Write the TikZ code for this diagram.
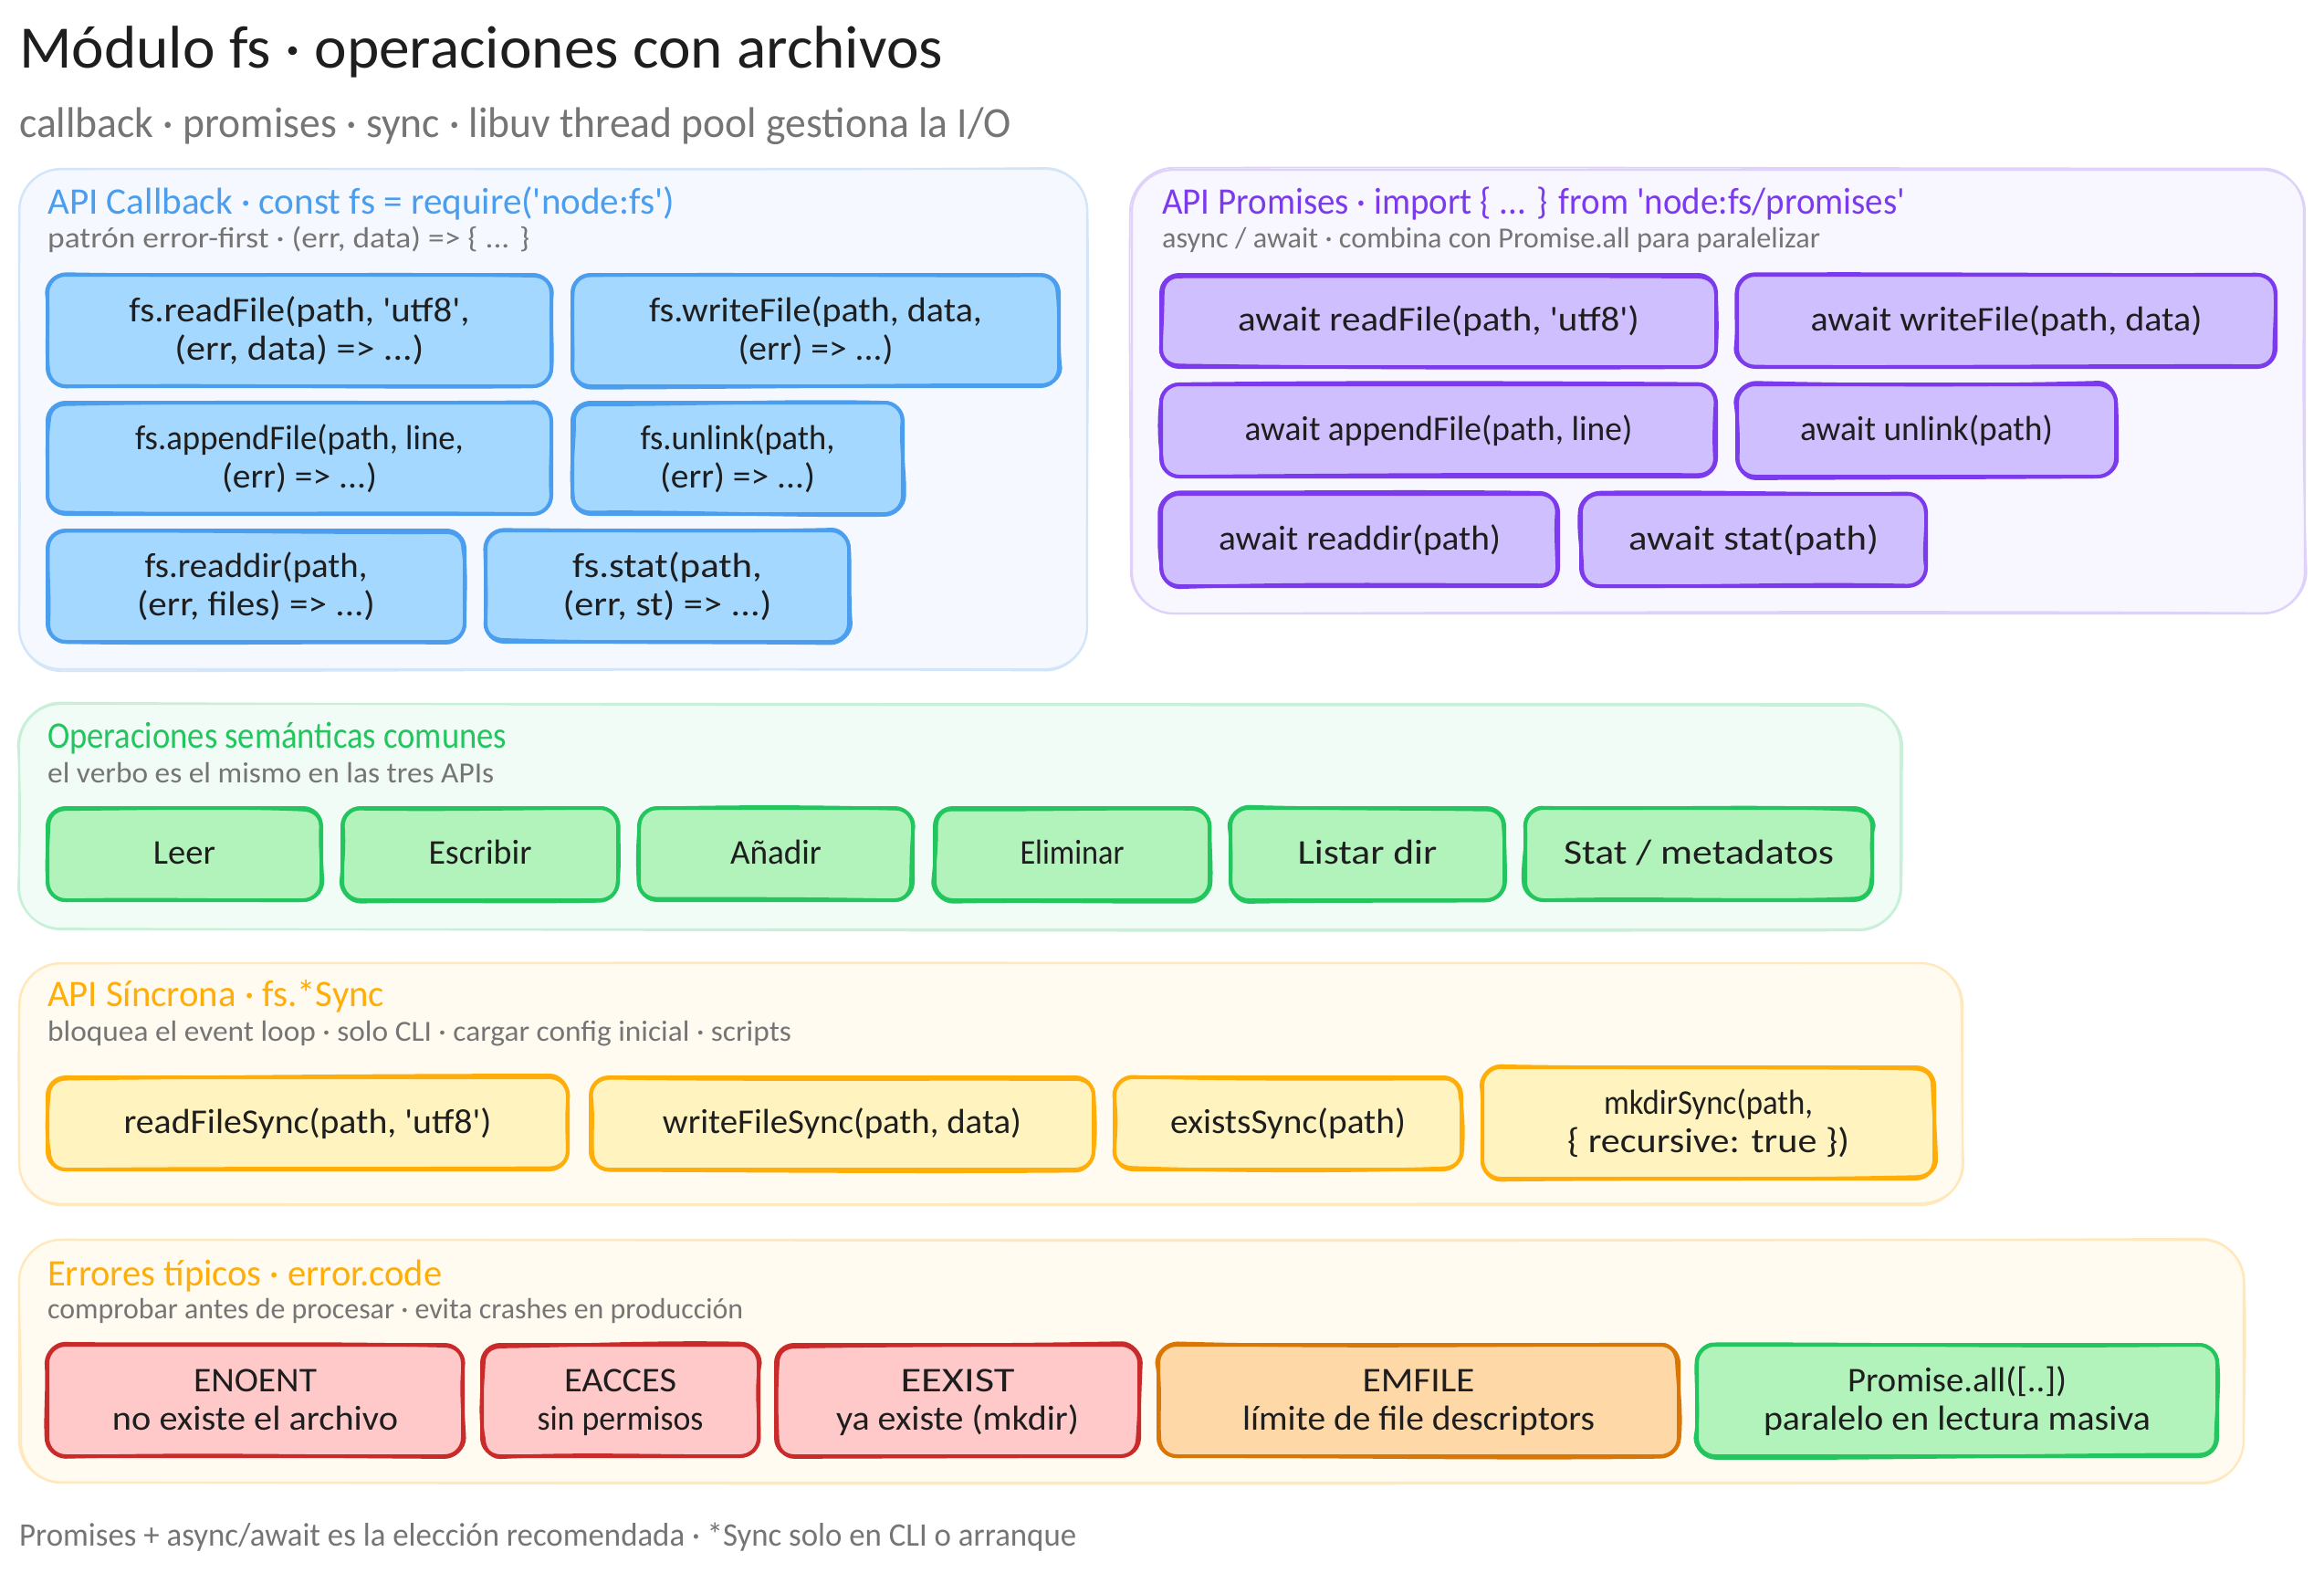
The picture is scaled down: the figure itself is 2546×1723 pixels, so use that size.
\documentclass[tikz,border=0pt]{standalone}
\usepackage{fontspec}
\usepackage{graphicx}
\newfontfamily\hand{Carlito}
\definecolor{ink}{HTML}{1E1E1E}
\definecolor{mute}{HTML}{757575}
\definecolor{bluS}{HTML}{4A9EED}\definecolor{bluF}{HTML}{A5D8FF}\definecolor{bluP}{HTML}{F5F8FF}\definecolor{bluL}{HTML}{D3E5F9}
\definecolor{purS}{HTML}{7C3AED}\definecolor{purF}{HTML}{D0BFFF}\definecolor{purP}{HTML}{F8F6FF}\definecolor{purL}{HTML}{DFD2FA}
\definecolor{grnS}{HTML}{22C55E}\definecolor{grnF}{HTML}{B2F2BB}\definecolor{grnP}{HTML}{F2FCF6}\definecolor{grnL}{HTML}{C8F0D8}
\definecolor{ambS}{HTML}{FFAD08}\definecolor{ambF}{HTML}{FFF3BF}\definecolor{ambP}{HTML}{FFFBF0}\definecolor{ambL}{HTML}{FFE8BC}
\definecolor{redS}{HTML}{C92A2A}\definecolor{redF}{HTML}{FFC9C9}
\definecolor{orgS}{HTML}{D97706}\definecolor{orgF}{HTML}{FFD8A8}
\newcommand\fitw[2]{\resizebox{#1pt}{\height}{#2}}
\newcommand\tline[2]{\rule[-10pt]{0pt}{42pt}\fitw{#1}{#2}}
% second, hand-drawn stroke round a shape
\newcommand\rough[7]{%x0 y0 x1 y1 radius jitter colour+width
  \pgfmathsetmacro\rja{rand*#6}\pgfmathsetmacro\rjb{rand*#6}\pgfmathsetmacro\rjc{rand*#6}\pgfmathsetmacro\rjd{rand*#6}%
  \pgfmathsetmacro\rje{rand*#6}\pgfmathsetmacro\rjf{rand*#6}\pgfmathsetmacro\rjg{rand*#6}\pgfmathsetmacro\rjh{rand*#6}%
  \pgfmathsetmacro\rji{1.6*rand*#6}\pgfmathsetmacro\rjj{1.6*rand*#6}%
  \pgfmathsetmacro\rww{(#3-#1-2*#5)/3}\pgfmathsetmacro\rhh{(#4-#2-2*#5)/3}\pgfmathsetmacro\rkk{0.55*#5}%
  \draw[#7,line cap=round,line join=round]
    ({#1+#5+\rja},{#2+\rjb}) .. controls ({#1+#5+\rww},{#2+\rji}) and ({#3-#5-\rww},{#2+\rjj}) .. ({#3-#5+\rjc},{#2+\rjd})
    .. controls ({#3-#5+\rkk},{#2+\rjd}) and ({#3+\rje},{#2+#5-\rkk}) .. ({#3+\rje},{#2+#5})
    .. controls ({#3+\rjj},{#2+#5+\rhh}) and ({#3+\rji},{#4-#5-\rhh}) .. ({#3+\rjf},{#4-#5})
    .. controls ({#3+\rjf},{#4-#5+\rkk}) and ({#3-#5+\rkk},{#4+\rjg}) .. ({#3-#5},{#4+\rjg})
    .. controls ({#3-#5-\rww},{#4+\rji}) and ({#1+#5+\rww},{#4+\rjj}) .. ({#1+#5},{#4+\rjh})
    .. controls ({#1+#5-\rkk},{#4+\rjh}) and ({#1+\rja},{#4-#5+\rkk}) .. ({#1+\rja},{#4-#5})
    .. controls ({#1+\rjj},{#4-#5-\rhh}) and ({#1+\rji},{#2+#5+\rhh}) .. ({#1+\rjb},{#2+#5})
    .. controls ({#1+\rjb},{#2+#5-\rkk}) and ({#1+#5-\rkk},{#2+\rjb}) .. ({#1+#5+\rja},{#2+\rjb});}
\tikzset{
  panelbox/.style={rounded corners=46pt,line width=2.2pt,inner sep=0pt,outer sep=0pt},
  cardbox/.style={rounded corners=20pt,line width=4pt,inner sep=0pt,outer sep=0pt,text=ink,align=center,
    font=\hand\fontsize{38}{42}\selectfont},
  titlefont/.style={font=\hand\fontsize{66}{72}\selectfont,text=ink,anchor=base west,inner sep=0pt},
  subfont/.style={font=\hand\fontsize{47}{52}\selectfont,text=mute,anchor=base west,inner sep=0pt},
  heading/.style={font=\hand\fontsize{41}{46}\selectfont,anchor=base west,inner sep=0pt},
  subhead/.style={font=\hand\fontsize{32}{36}\selectfont,text=mute,anchor=base west,inner sep=0pt},
  footnote/.style={font=\hand\fontsize{36}{40}\selectfont,text=mute,anchor=base west,inner sep=0pt},
}
% name x0 y0 x1 y1 fill stroke
\newcommand\panel[7]{%
  \node[panelbox,fill=#6,draw=#7,minimum width={(#4-#2)*1pt},minimum height={(#5-#3)*1pt}] (#1) at ({(#2+#4)/2},{(#3+#5)/2}) {};%
  \rough{#2}{#3}{#4}{#5}{46}{2.2}{#7,line width=1.8pt}}
% name x0 y0 x1 y1 fill stroke text
\newcommand\card[8]{%
  \node[cardbox,fill=#6,draw=#7,minimum width={(#4-#2)*1pt},minimum height={(#5-#3)*1pt}] (#1) at ({(#2+#4)/2},{(#3+#5)/2}) {#8};%
  \rough{#2}{#3}{#4}{#5}{20}{2.2}{#7,line width=3.6pt}}
\begin{document}
\begin{tikzpicture}[x=1pt,y=-1pt]
\pgfmathsetseed{7}
\useasboundingbox (0,0) rectangle (2546,1723);
\fill[white] (0,0) rectangle (2546,1723);
\node[titlefont] (title) at (21,75) {\fitw{1012}{Módulo fs · operaciones con archivos}};
\node[subfont] (subtitle) at (21,151) {\fitw{1087}{callback · promises · sync · libuv thread pool gestiona la I/O}};
% Callback
\panel{pcb}{21}{185}{1191}{733}{bluP}{bluL}
\node[heading,text=bluS] (pcbt) at (52,235) {\fitw{687}{API Callback · const fs = require('node:fs')}};
\node[subhead] (pcbs) at (52,272) {\fitw{528}{patrón error-first · (err, data) => \{ ... \}}};
\card{cb1}{52}{301}{604}{423}{bluF}{bluS}{\tline{373}{fs.readFile(path, 'utf8',}\\\tline{273}{(err, data) => ...)}}
\card{cb2}{627}{301}{1160}{423}{bluF}{bluS}{\tline{365}{fs.writeFile(path, data,}\\\tline{170}{(err) => ...)}}
\card{cb3}{52}{441}{604}{563}{bluF}{bluS}{\tline{360}{fs.appendFile(path, line,}\\\tline{170}{(err) => ...)}}
\card{cb4}{627}{441}{989}{563}{bluF}{bluS}{\tline{213}{fs.unlink(path,}\\\tline{170}{(err) => ...)}}
\card{cb5}{52}{581}{509}{703}{bluF}{bluS}{\tline{244}{fs.readdir(path,}\\\tline{261}{(err, files) => ...)}}
\card{cb6}{532}{581}{930}{703}{bluF}{bluS}{\tline{208}{fs.stat(path,}\\\tline{229}{(err, st) => ...)}}
% Promises
\panel{ppr}{1240}{186}{2525}{672}{purP}{purL}
\node[heading,text=purS] (pprt) at (1273,235) {\fitw{814}{API Promises · import \{ ... \} from 'node:fs/promises'}};
\node[subhead] (pprs) at (1273,271) {\fitw{721}{async / await · combina con Promise.all para paralelizar}};
\card{pr1}{1272}{301}{1880}{402}{purF}{purS}{\tline{440}{await readFile(path, 'utf8')}}
\card{pr2}{1903}{301}{2493}{402}{purF}{purS}{\tline{429}{await writeFile(path, data)}}
\card{pr3}{1272}{421}{1880}{522}{purF}{purS}{\tline{425}{await appendFile(path, line)}}
\card{pr4}{1903}{421}{2318}{522}{purF}{purS}{\tline{277}{await unlink(path)}}
\card{pr5}{1272}{541}{1707}{642}{purF}{purS}{\tline{309}{await readdir(path)}}
\card{pr6}{1732}{541}{2110}{642}{purF}{purS}{\tline{274}{await stat(path)}}
% Semantics
\panel{pse}{21}{771}{2082}{1018}{grnP}{grnL}
\node[heading,text=grnS] (pset) at (52,819) {\fitw{503}{Operaciones semánticas comunes}};
\node[subhead] (pses) at (52,857) {\fitw{489}{el verbo es el mismo en las tres APIs}};
\card{se1}{52}{885}{352}{986}{grnF}{grnS}{\tline{68}{Leer}}
\card{se2}{375}{885}{677}{986}{grnF}{grnS}{\tline{113}{Escribir}}
\card{se3}{700}{885}{1000}{986}{grnF}{grnS}{\tline{100}{Añadir}}
\card{se4}{1024}{885}{1325}{986}{grnF}{grnS}{\tline{114}{Eliminar}}
\card{se5}{1348}{885}{1648}{986}{grnF}{grnS}{\tline{153}{Listar dir}}
\card{se6}{1671}{885}{2051}{986}{grnF}{grnS}{\tline{296}{Stat / metadatos}}
% Sync
\panel{psy}{21}{1055}{2150}{1320}{ambP}{ambL}
\node[heading,text=ambS] (psyt) at (52,1102) {\fitw{369}{API Síncrona · fs.*Sync}};
\node[subhead] (psys) at (52,1140) {\fitw{815}{bloquea el event loop · solo CLI · cargar config inicial · scripts}};
\card{sy1}{52}{1180}{622}{1281}{ambF}{ambS}{\tline{403}{readFileSync(path, 'utf8')}}
\card{sy2}{647}{1180}{1198}{1281}{ambF}{ambS}{\tline{393}{writeFileSync(path, data)}}
\card{sy3}{1221}{1180}{1601}{1281}{ambF}{ambS}{\tline{258}{existsSync(path)}}
\card{sy4}{1624}{1169}{2119}{1291}{ambF}{ambS}{\tline{229}{mkdirSync(path,}\\\tline{309}{\{ recursive: true \})}}
% Errors
\panel{per}{21}{1358}{2458}{1624}{ambP}{ambL}
\node[heading,text=ambS] (pert) at (52,1408) {\fitw{432}{Errores típicos · error.code}};
\node[subhead] (pers) at (52,1444) {\fitw{762}{comprobar antes de procesar · evita crashes en producción}};
\card{er1}{52}{1473}{507}{1595}{redF}{redS}{\tline{135}{ENOENT}\\\tline{313}{no existe el archivo}}
\card{er2}{528}{1473}{831}{1595}{redF}{redS}{\tline{123}{EACCES}\\\tline{182}{sin permisos}}
\card{er3}{850}{1473}{1248}{1595}{redF}{redS}{\tline{125}{EEXIST}\\\tline{266}{ya existe (mkdir)}}
\card{er4}{1269}{1473}{1839}{1595}{orgF}{orgS}{\tline{123}{EMFILE}\\\tline{386}{límite de file descriptors}}
\card{er5}{1859}{1473}{2429}{1595}{grnF}{grnS}{\tline{240}{Promise.all([..])}\\\tline{424}{paralelo en lectura masiva}}
\node[footnote] (foot) at (21,1693) {\fitw{1158}{Promises + async/await es la elección recomendada · *Sync solo en CLI o arranque}};
\end{tikzpicture}
\end{document}
